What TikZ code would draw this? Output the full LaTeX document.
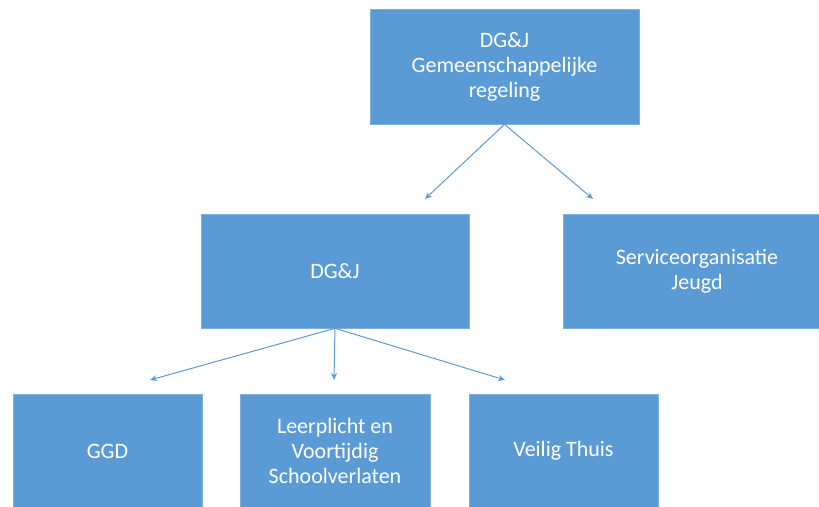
\documentclass[tikz,border=0pt]{standalone}
\usepackage{fontspec}
\setmainfont{Carlito}
\usetikzlibrary{arrows.meta}
\definecolor{boxblue}{HTML}{5B9BD5}
\definecolor{boxedge}{HTML}{7FB0DD}
\definecolor{lineblue}{HTML}{5B9BD5}
\begin{document}
\begin{tikzpicture}[x=1pt,y=-1pt,
  box/.style={rectangle, fill=boxblue, draw=boxedge, line width=0.6pt, text=white,
    align=center, font=\fontsize{22}{25}\selectfont, inner sep=0pt},
  link/.style={draw=lineblue, line width=1pt, -{Stealth[length=7pt,width=6pt]}}]
\clip (0,0) rectangle (819,506);
\useasboundingbox (0,0) rectangle (819,506);
\node[box, minimum width=269pt, minimum height=115pt] (top) at (504.5,66.5)
  {DG\&J\\Gemeenschappelijke\\regeling};
\node[box, minimum width=268pt, minimum height=114pt] (dgj) at (335,271) {DG\&J};
\node[box, minimum width=268pt, minimum height=114pt] (serv) at (697,271)
  {Serviceorganisatie\\Jeugd};
\node[box, minimum width=189pt, minimum height=114pt] (ggd) at (107.5,451) {GGD};
\node[box, minimum width=190pt, minimum height=114pt] (leer) at (335,451)
  {Leerplicht en\\Voortijdig\\Schoolverlaten};
\node[box, minimum width=189pt, minimum height=114pt] (veil) at (563.5,451) {Veilig Thuis};
\coordinate (e1) at (425,199);
\coordinate (e2) at (593,199);
\coordinate (e3) at (150,380);
\coordinate (e4) at (334,380);
\coordinate (e5) at (505,380);
\draw[link] (top.south) -- (e1);
\draw[link] (top.south) -- (e2);
\draw[link] (dgj.south) -- (e3);
\draw[link] (dgj.south) -- (e4);
\draw[link] (dgj.south) -- (e5);
\end{tikzpicture}
\end{document}
